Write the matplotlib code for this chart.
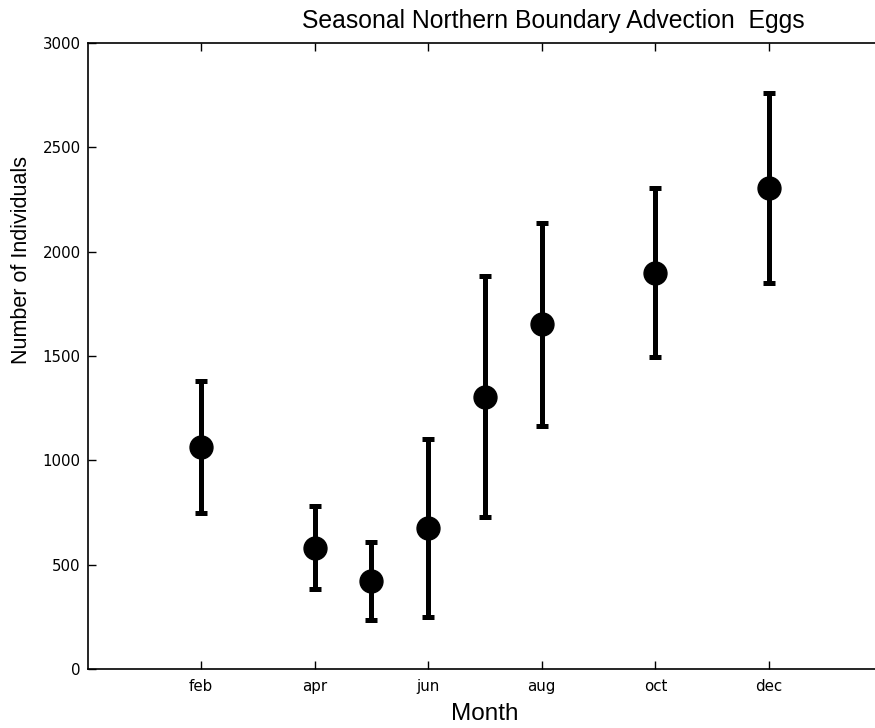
import numpy as np
import matplotlib
matplotlib.use("Agg")
import matplotlib.pyplot as plt

# monthly means and error half-widths
months = [2, 4, 5, 6, 7, 8, 10, 12]
means = [1065, 582, 420, 675, 1305, 1652, 1900, 2305]
errors = [317, 200, 187, 427, 578, 486, 406, 455]

tick_pos = [2, 4, 6, 8, 10, 12]
tick_labels = ["feb", "apr", "jun", "aug", "oct", "dec"]
y_ticks = [0, 500, 1000, 1500, 2000, 2500, 3000]

fig = plt.figure(figsize=(8.75, 7.28), dpi=100)
ax = fig.add_axes([87.5 / 875, 59 / 728, 795 / 875, 626 / 728])

ax.errorbar(months, means, yerr=errors, fmt="o", color="black",
            markersize=16.5, elinewidth=3.6, capsize=4.5, capthick=3.6)

ax.set_xlim(0, 14)
ax.set_ylim(0, 3000)
ax.set_xticks(tick_pos)
ax.set_xticklabels(tick_labels)
ax.set_yticks(y_ticks)
ax.tick_params(direction="in", top=True, right=True, length=6, width=1,
               labelsize=10.8)
ax.tick_params(axis="x", pad=7)
ax.tick_params(axis="y", pad=5)
for t in ax.get_xticklabels() + ax.get_yticklabels():
    t.set_family("DejaVu Sans")
for s in ax.spines.values():
    s.set_linewidth(1.2)

fig.text(553 / 875, 1 - 21 / 728, "Seasonal Northern Boundary Advection  Eggs",
         ha="center", va="center", fontsize=17.8, family="Liberation Sans")
fig.text(485 / 875, 1 - 714 / 728, "Month", ha="center", va="center",
         fontsize=17.5, family="Liberation Sans")
fig.text(22 / 875, 1 - 260 / 728, "Number of Individuals", ha="center",
         va="center", rotation=90, fontsize=15.5, family="Liberation Sans")

fig.savefig("out.png", dpi=100)
